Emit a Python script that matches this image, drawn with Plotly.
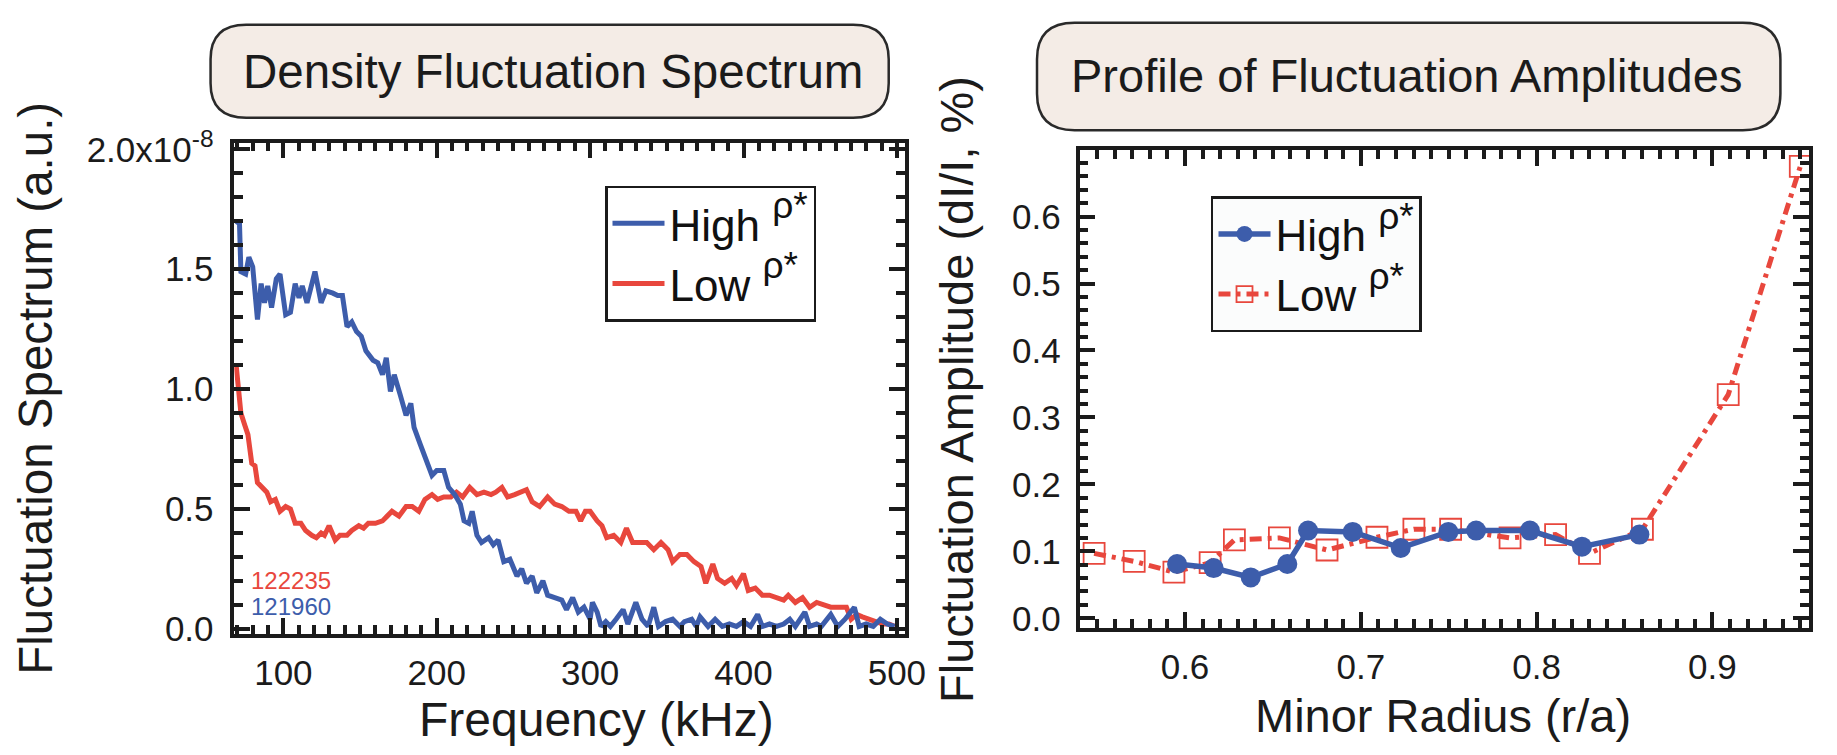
import plotly.graph_objects as go

W, H = 1837, 755

# ---------------- data: left panel (Density Fluctuation Spectrum, units of 1e-8 a.u.) -------------
freq_high = [69.2, 71.4, 72.3, 75.4, 77.5, 80.0, 83.1, 85.5, 87.7, 89.8, 92.3, 95.4, 97.8, 101.5,
             104.6, 107.7, 110.2, 112.3, 115.4, 120.6, 124.6, 127.7, 132.3, 135.4, 138.5, 141.5,
             144.6, 147.7, 150.8, 153.8, 158.5, 161.5, 164.6, 167.1, 169.8, 172.3, 176.0, 180.0,
             183.1, 185.2, 189.2, 193.8, 196.9, 200.0, 204.6, 207.7, 211.7, 215.4, 217.8, 220.9,
             223.1, 226.2, 229.2, 233.8, 236.9, 240.0, 243.7, 247.7, 252.3, 255.4, 258.5, 262.2,
             265.2, 269.2, 272.3, 276.9, 281.5, 284.6, 288.6, 292.3, 296.0, 300.0, 301.5, 304.6,
             307.1, 310.2, 313.2, 316.9, 321.5, 324.6, 329.8, 333.8, 337.8, 341.5, 344.6, 349.2,
             353.8, 358.5, 361.5, 366.2, 369.2, 371.7, 376.9, 381.5, 386.2, 390.8, 395.4, 400.0,
             404.6, 409.2, 412.3, 416.9, 421.5, 426.2, 430.2, 433.8, 440.0, 443.1, 447.7, 450.8,
             456.9, 461.5, 466.2, 472.3, 475.4, 480.0, 484.6, 489.2, 493.8, 498.5]
spec_high = [1.70, 1.69, 1.49, 1.48, 1.55, 1.51, 1.29, 1.44, 1.36, 1.43, 1.34, 1.46, 1.48, 1.31,
             1.32, 1.44, 1.38, 1.43, 1.36, 1.49, 1.36, 1.41, 1.40, 1.39, 1.39, 1.26,
             1.28, 1.24, 1.22, 1.16, 1.12, 1.11, 1.06, 1.13, 0.99, 1.06, 0.98, 0.89,
             0.94, 0.84, 0.77, 0.69, 0.64, 0.66, 0.66, 0.59, 0.56, 0.52, 0.45, 0.44,
             0.49, 0.39, 0.36, 0.38, 0.35, 0.37, 0.28, 0.29, 0.22, 0.25, 0.19, 0.22,
             0.15, 0.20, 0.14, 0.13, 0.12, 0.08, 0.13, 0.07, 0.09, 0.04, 0.11, 0.07,
             0.01, 0.03, 0.01, 0.04, 0.08, 0.02, 0.11, 0.04, 0.01, 0.09, 0.01, 0.03,
             0.04, 0.01, 0.03, 0.04, 0.01, 0.05, 0.01, 0.04, 0.01, 0.02, 0.01, 0.03,
             0.01, 0.06, 0.01, 0.02, 0.01, 0.02, 0.04, 0.01, 0.07, 0.01, 0.02, 0.01,
             0.06, 0.01, 0.04, 0.09, 0.01, 0.02, 0.01, 0.04, 0.02, 0.01]

freq_low = [69.2, 70.8, 72.3, 74.8, 76.9, 79.4, 81.5, 83.1, 86.2, 89.2, 91.7, 94.8, 97.8, 101.5,
            104.6, 107.7, 111.4, 114.5, 118.5, 121.5, 124.6, 126.8, 129.8, 133.8, 136.9, 141.5,
            144.6, 149.2, 152.3, 155.4, 160.0, 164.6, 167.7, 170.8, 175.4, 180.0, 184.0, 188.3,
            192.3, 196.9, 200.6, 204.6, 209.2, 212.9, 216.9, 221.5, 226.2, 230.8, 235.4, 238.5,
            242.5, 246.2, 250.8, 255.4, 258.5, 262.2, 267.1, 272.3, 276.9, 281.5, 286.2, 290.8,
            293.8, 296.9, 300.0, 304.6, 307.7, 310.8, 315.4, 320.0, 323.7, 327.7, 332.3, 336.9,
            341.5, 346.2, 350.8, 353.8, 358.5, 363.1, 367.7, 372.3, 375.4, 380.0, 383.1, 387.7,
            392.3, 395.4, 400.0, 403.1, 407.7, 412.3, 416.9, 421.5, 426.2, 429.2, 433.8, 438.5,
            443.1, 447.7, 452.3, 456.9, 461.5, 467.1, 470.2, 473.8, 477.5, 481.5, 486.2, 490.8,
            494.8, 498.5]
spec_low = [1.10, 1.01, 0.90, 0.85, 0.81, 0.69, 0.68, 0.61, 0.59, 0.57, 0.53, 0.54, 0.49, 0.51,
            0.50, 0.44, 0.44, 0.41, 0.39, 0.38, 0.40, 0.39, 0.43, 0.37, 0.39, 0.39,
            0.41, 0.43, 0.42, 0.44, 0.44, 0.45, 0.47, 0.49, 0.47, 0.51, 0.51, 0.49,
            0.54, 0.56, 0.54, 0.55, 0.55, 0.57, 0.55, 0.59, 0.56, 0.57, 0.56, 0.57,
            0.59, 0.55, 0.56, 0.57, 0.58, 0.53, 0.51, 0.55, 0.52, 0.51, 0.49, 0.49,
            0.45, 0.49, 0.49, 0.45, 0.43, 0.38, 0.39, 0.36, 0.42, 0.36, 0.36, 0.36,
            0.33, 0.36, 0.33, 0.28, 0.31, 0.31, 0.28, 0.26, 0.19, 0.27, 0.21, 0.19,
            0.21, 0.18, 0.23, 0.16, 0.17, 0.14, 0.14, 0.13, 0.12, 0.14, 0.11, 0.13,
            0.09, 0.11, 0.10, 0.09, 0.09, 0.09, 0.04, 0.06, 0.05, 0.04, 0.03, 0.02,
            0.02, 0.01]

# ---------------- data: right panel (Profile of Fluctuation Amplitudes) ----------------
r_high = [0.5955, 0.6163, 0.6374, 0.6582, 0.6700, 0.6954, 0.7227, 0.7498, 0.7656, 0.7962,
          0.8258, 0.8585]
amp_high = [0.081, 0.075, 0.061, 0.081, 0.131, 0.129, 0.105, 0.129, 0.131, 0.131, 0.107, 0.125]

r_low = [0.5483, 0.5711, 0.5937, 0.6143, 0.6281, 0.6537, 0.6808, 0.7092, 0.7302, 0.7511,
         0.7849, 0.8108, 0.8301, 0.8602, 0.9090, 0.9500]
amp_low = [0.097, 0.085, 0.069, 0.083, 0.117, 0.120, 0.102, 0.121, 0.133, 0.133,
           0.120, 0.125, 0.097, 0.133, 0.334, 0.675]

shot_labels = ["122235", "121960"]
titles = ["Density Fluctuation Spectrum", "Profile of Fluctuation Amplitudes"]
series_names = ["High", "Low"]

BLUE = "#3D5DAB"
RED = "#E8473D"
INK = "#1b1b1b"
FONT = "Liberation Sans, Arial, Helvetica, sans-serif"

RHO = "&nbsp;<span style='font-size:53px'><sup>ρ*</sup></span>"


def px(x):
    return x / W


def py(y):
    return 1 - y / H


def rrect(x0, y0, x1, y1, r):
    pts = [
        ("M", [(x0 + r, y0)]), ("L", [(x1 - r, y0)]), ("Q", [(x1, y0), (x1, y0 + r)]),
        ("L", [(x1, y1 - r)]), ("Q", [(x1, y1), (x1 - r, y1)]), ("L", [(x0 + r, y1)]),
        ("Q", [(x0, y1), (x0, y1 - r)]), ("L", [(x0, y0 + r)]), ("Q", [(x0, y0), (x0 + r, y0)]),
    ]
    s = ""
    for cmd, ps in pts:
        s += cmd + " " + " ".join(f"{px(a):.5f},{py(b):.5f}" for a, b in ps) + " "
    return s + "Z"


fig = go.Figure()

# left panel
fig.add_trace(go.Scatter(x=freq_low, y=spec_low, mode="lines", name=series_names[1] + RHO,
                         line=dict(color=RED, width=5), xaxis="x", yaxis="y",
                         legend="legend", legendrank=2))
fig.add_trace(go.Scatter(x=freq_high, y=spec_high, mode="lines", name=series_names[0] + RHO,
                         line=dict(color=BLUE, width=5), xaxis="x", yaxis="y",
                         legend="legend", legendrank=1))

# right panel
fig.add_trace(go.Scatter(x=r_low, y=amp_low, mode="lines+markers", name=series_names[1] + RHO,
                         line=dict(color=RED, width=5, dash="12px,6px,4px,6px"),
                         marker=dict(symbol="square-open", size=21, color=RED,
                                     line=dict(width=1.8, color=RED)),
                         xaxis="x2", yaxis="y2", legend="legend2", legendrank=2))
fig.add_trace(go.Scatter(x=r_high, y=amp_high, mode="lines+markers", name=series_names[0] + RHO,
                         line=dict(color=BLUE, width=5.5),
                         marker=dict(symbol="circle", size=20, color=BLUE),
                         xaxis="x2", yaxis="y2", legend="legend2", legendrank=1))

axis_common = dict(showline=True, linewidth=3.5, linecolor=INK, mirror="allticks",
                   ticks="inside", ticklen=16, tickwidth=3.5, tickcolor=INK,
                   showgrid=False, zeroline=False,
                   tickfont=dict(family=FONT, size=35, color=INK))
minor_common = dict(ticks="inside", ticklen=9, tickwidth=3.5, tickcolor=INK)

fig.update_layout(
    width=W, height=H,
    margin=dict(l=0, r=0, t=0, b=0),
    paper_bgcolor="white", plot_bgcolor="white",
    font=dict(family=FONT, color=INK),
    xaxis=dict(domain=[px(237), px(915)], anchor="y", range=[68, 505],
               tickmode="linear", tick0=100, dtick=100, ticklabelstandoff=6,
               minor=dict(tick0=0, dtick=10, **minor_common),
               **axis_common),
    yaxis=dict(domain=[py(643), py(131)], anchor="x", range=[-0.02, 2.028],
               tickmode="linear", tick0=0, dtick=0.5, tickformat=".1f",
               labelalias={"2.0": "2.0x10<sup>-8</sup>"}, ticklabelstandoff=10,
               minor=dict(tick0=0, dtick=0.1, **minor_common),
               **axis_common),
    xaxis2=dict(domain=[px(1092), px(1830)], anchor="y2", range=[0.54, 0.955],
                tickmode="linear", tick0=0.6, dtick=0.1, tickformat=".1f", ticklabelstandoff=5,
                minor=dict(tick0=0.5, dtick=0.01, **minor_common),
                **axis_common),
    yaxis2=dict(domain=[py(637), py(139)], anchor="x2", range=[-0.0143, 0.699],
                tickmode="linear", tick0=0, dtick=0.1, tickformat=".1f", ticklabelstandoff=8,
                minor=dict(tick0=0, dtick=0.02, **minor_common),
                **axis_common),
    legend=dict(x=px(612), y=py(176), xanchor="left", yanchor="top",
                bgcolor="white", bordercolor=INK, borderwidth=2.5,
                font=dict(family=FONT, size=44, color="#111"), itemwidth=52,
                tracegroupgap=0),
    legend2=dict(x=px(1225), y=py(187), xanchor="left", yanchor="top",
                 bgcolor="#fbfcfc", bordercolor=INK, borderwidth=2.5,
                 font=dict(family=FONT, size=44, color="#111"), itemwidth=52,
                 tracegroupgap=0),
    showlegend=True,
)

# title boxes
fig.add_shape(type="path", xref="paper", yref="paper", path=rrect(213, 8, 899, 105, 36),
              fillcolor="#F4ECE6", line=dict(color="#2a2a2a", width=2.5), layer="below")
fig.add_shape(type="path", xref="paper", yref="paper", path=rrect(1049, 6, 1801, 118, 38),
              fillcolor="#F4ECE6", line=dict(color="#2a2a2a", width=2.5), layer="below")

ann = [
    dict(text=titles[0], x=px(559), y=py(57), size=47.5, angle=0, color=INK, xa="center"),
    dict(text=titles[1], x=px(1423), y=py(61), size=47, angle=0, color=INK, xa="center"),
    dict(text="Fluctuation Spectrum (a.u.)", x=px(36), y=py(387), size=47.5, angle=-90,
         color=INK, xa="center"),
    dict(text="Fluctuation Amplitude (dI/I, %)", x=px(967), y=py(388), size=47, angle=-90,
         color=INK, xa="center"),
    dict(text="Frequency (kHz)", x=px(603), y=py(733), size=48, angle=0, color=INK, xa="center"),
    dict(text="Minor Radius (r/a)", x=px(1460), y=py(728), size=47, angle=0, color=INK,
         xa="center"),
    dict(text=shot_labels[0], x=px(252), y=py(588), size=24, angle=0, color=RED, xa="left"),
    dict(text=shot_labels[1], x=px(252), y=py(615), size=24, angle=0, color=BLUE, xa="left"),
]
for a in ann:
    fig.add_annotation(text=a["text"], x=a["x"], y=a["y"], xref="paper", yref="paper",
                       xanchor=a["xa"], yanchor="middle", showarrow=False, textangle=a["angle"],
                       font=dict(family=FONT, size=a["size"], color=a["color"]))

fig.write_html("out.html")
